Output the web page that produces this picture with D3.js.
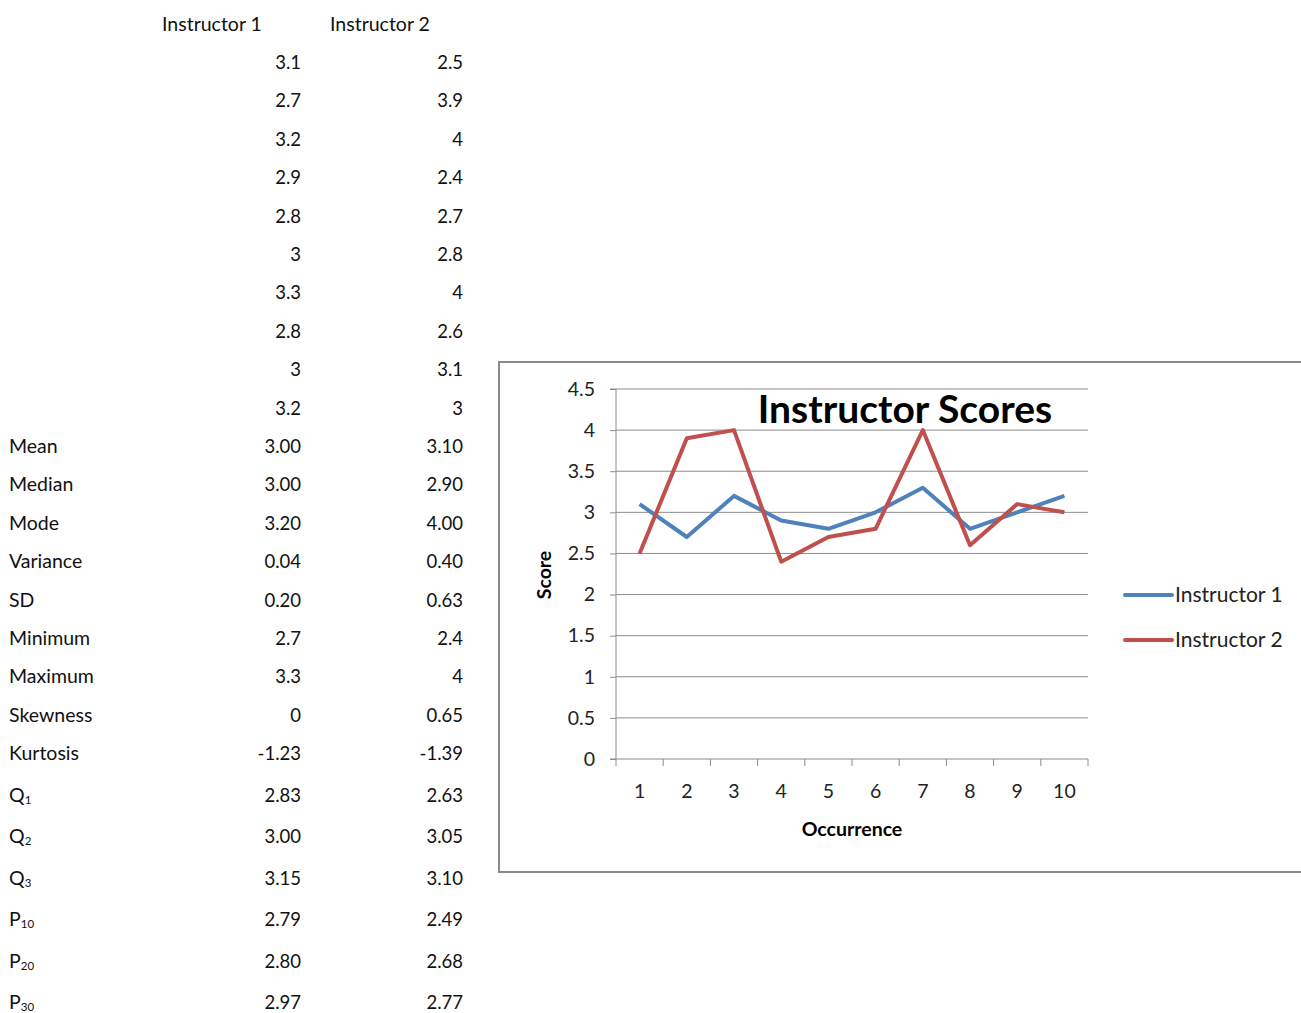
<!DOCTYPE html>
<html>
<head>
<meta charset="utf-8">
<script src="https://cdn.jsdelivr.net/npm/d3@7"></script>
<style>
  body { margin: 0; background: #fff; }
  svg { display: block; font-family: Lato, "Open Sans", sans-serif; }
  .cell { font-size: 18.5px; fill: #111; }
  .word { font-size: 19.5px; }
  .tick text { font-size: 19.5px; fill: #222; }
</style>
</head>
<body>
<svg id="sheet" width="1301" height="1013"></svg>
<script>
// raw scores
const occurrences = [1, 2, 3, 4, 5, 6, 7, 8, 9, 10];
const instructor1 = [3.1, 2.7, 3.2, 2.9, 2.8, 3, 3.3, 2.8, 3, 3.2];
const instructor2 = [2.5, 3.9, 4, 2.4, 2.7, 2.8, 4, 2.6, 3.1, 3];
const seriesNames = ["Instructor 1", "Instructor 2"];
const seriesColors = ["#4f81bd", "#c0504d"];

// summary rows as printed in the sheet
const statLabels = ["Mean", "Median", "Mode", "Variance", "SD", "Minimum", "Maximum", "Skewness", "Kurtosis"];
const stat1 = ["3.00", "3.00", "3.20", "0.04", "0.20", "2.7", "3.3", "0", "-1.23"];
const stat2 = ["3.10", "2.90", "4.00", "0.40", "0.63", "2.4", "4", "0.65", "-1.39"];
const pctLabels = [["Q", "1"], ["Q", "2"], ["Q", "3"], ["P", "10"], ["P", "20"], ["P", "30"]];
const pct1 = ["2.83", "3.00", "3.15", "2.79", "2.80", "2.97"];
const pct2 = ["2.63", "3.05", "3.10", "2.49", "2.68", "2.77"];

const yTicks = [0, 0.5, 1, 1.5, 2, 2.5, 3, 3.5, 4, 4.5];

const svg = d3.select("#sheet");

// ---------- table ----------
const col = { label: 9, v1: 301, v2: 463 };
const table = svg.append("g");

table.append("text").attr("class", "cell word").attr("x", 162).attr("y", 31).text(seriesNames[0]);
table.append("text").attr("class", "cell word").attr("x", 330).attr("y", 31).text(seriesNames[1]);

const rawRows = d3.range(instructor1.length);
const rowY = d3.scaleLinear().domain([0, 1]).range([69, 107.4]);

rawRows.forEach((i) => {
  table.append("text").attr("class", "cell").attr("x", col.v1).attr("y", rowY(i))
    .attr("text-anchor", "end").text(instructor1[i]);
  table.append("text").attr("class", "cell").attr("x", col.v2).attr("y", rowY(i))
    .attr("text-anchor", "end").text(instructor2[i]);
});

statLabels.forEach((lab, i) => {
  const y = rowY(instructor1.length + i);
  table.append("text").attr("class", "cell word").attr("x", col.label).attr("y", y).text(lab);
  table.append("text").attr("class", "cell").attr("x", col.v1).attr("y", y).attr("text-anchor", "end").text(stat1[i]);
  table.append("text").attr("class", "cell").attr("x", col.v2).attr("y", y).attr("text-anchor", "end").text(stat2[i]);
});

// subscript rows are a bit taller
const pctY = d3.scaleLinear().domain([0, 1]).range([802, 843.4]);
pctLabels.forEach((lab, i) => {
  const y = pctY(i);
  const t = table.append("text").attr("class", "cell word").attr("x", col.label).attr("y", y);
  t.append("tspan").text(lab[0]);
  t.append("tspan").attr("dy", 2).style("font-size", "11.5px").text(lab[1]);
  table.append("text").attr("class", "cell").attr("x", col.v1).attr("y", y).attr("text-anchor", "end").text(pct1[i]);
  table.append("text").attr("class", "cell").attr("x", col.v2).attr("y", y).attr("text-anchor", "end").text(pct2[i]);
});

// ---------- chart ----------
const box = { x: 499, y: 362, w: 820, h: 510 };
svg.append("rect")
  .attr("x", box.x).attr("y", box.y).attr("width", box.w).attr("height", box.h)
  .attr("fill", "#fff").attr("stroke", "#8a8a8a").attr("stroke-width", 2);

const plot = { left: 616, right: 1088, top: 389, bottom: 759 };

const x = d3.scaleBand().domain(occurrences).range([plot.left, plot.right]);
const y = d3.scaleLinear().domain([0, 4.5]).range([plot.bottom, plot.top]);

const g = svg.append("g");

// gridlines
g.selectAll("line.grid")
  .data(yTicks.filter((d) => d > 0))
  .enter()
  .append("line")
  .attr("x1", plot.left).attr("x2", plot.right)
  .attr("y1", (d) => y(d)).attr("y2", (d) => y(d))
  .attr("stroke", "#8c8c8c").attr("stroke-width", 1);

// y axis
const yAxis = g.append("g")
  .attr("transform", `translate(${plot.left},0)`)
  .call(d3.axisLeft(y).tickValues(yTicks).tickSize(6).tickPadding(15).tickFormat(d3.format("")));
yAxis.selectAll("line, path").attr("stroke", "#8c8c8c");
yAxis.select(".domain").attr("d", `M-6,${plot.top}H0V${plot.bottom}H-6`);
yAxis.selectAll(".tick text").style("font-family", "Lato, sans-serif");

// x axis with tick marks on band edges
const xAxis = g.append("g")
  .attr("transform", `translate(0,${plot.bottom})`)
  .call(d3.axisBottom(x).tickSize(0).tickPadding(25));
xAxis.select(".domain").attr("stroke", "#8c8c8c").attr("d", `M${plot.left},0H${plot.right}`);
xAxis.selectAll(".tick text").style("font-family", "Lato, sans-serif");

const edges = occurrences.map((d) => x(d)).concat([plot.right]);
xAxis.selectAll("line.edge")
  .data(edges)
  .enter()
  .append("line")
  .attr("x1", (d) => d).attr("x2", (d) => d)
  .attr("y1", 0).attr("y2", 7)
  .attr("stroke", "#8c8c8c");

// series lines
const line = d3.line()
  .x((d, i) => x(occurrences[i]) + x.bandwidth() / 2)
  .y((d) => y(d));

[instructor1, instructor2].forEach((vals, k) => {
  g.append("path")
    .datum(vals)
    .attr("d", line)
    .attr("fill", "none")
    .attr("stroke", seriesColors[k])
    .attr("stroke-width", 4)
    .attr("stroke-linejoin", "round");
});

// title + axis titles
svg.append("text")
  .attr("x", 905).attr("y", 423)
  .attr("text-anchor", "middle")
  .style("font-size", "39px").style("font-weight", 700)
  .text("Instructor Scores");

svg.append("text")
  .attr("transform", `translate(551,${(plot.top + plot.bottom) / 2 + 1}) rotate(-90)`)
  .attr("text-anchor", "middle")
  .style("font-size", "19.5px").style("font-weight", 700)
  .text("Score");

svg.append("text")
  .attr("x", (plot.left + plot.right) / 2).attr("y", 836)
  .attr("text-anchor", "middle")
  .style("font-size", "19.5px").style("font-weight", 700)
  .text("Occurrence");

// legend
const legend = svg.append("g");
seriesNames.forEach((name, k) => {
  const ly = 595 + k * 45;
  legend.append("line")
    .attr("x1", 1125).attr("x2", 1172).attr("y1", ly).attr("y2", ly)
    .attr("stroke", seriesColors[k]).attr("stroke-width", 4).attr("stroke-linecap", "round");
  legend.append("text")
    .attr("x", 1175).attr("y", ly + 7)
    .style("font-size", "21px").style("fill", "#222")
    .text(name);
});
</script>
</body>
</html>
